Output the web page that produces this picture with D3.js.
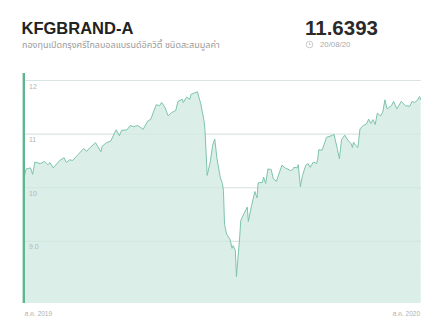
<!DOCTYPE html>
<html lang="th">
<head>
<meta charset="UTF-8">
<title>KFGBRAND-A</title>
<script src="https://d3js.org/d3.v7.min.js"></script>
<style>
  html, body { margin: 0; padding: 0; background: #fff; }
  body { font-family: "Liberation Sans", Arial, "Noto Sans Thai", "Noto Sans", sans-serif; }
  svg { display: block; }
</style>
</head>
<body>
<svg id="chart" width="442" height="329"></svg>
<script>
// --- data ---
const fundCode = "KFGBRAND-A";
const fundName = "กองทุนเปิดกรุงศรีโกลบอลแบรนด์อิควิตี้ ชนิดสะสมมูลค่า";
const latestNav = "11.6393";
const latestDate = "20/08/20";
const startDate = "2019-08-20";
const endDate = "2020-08-20";
const xLabels = ["ส.ค. 2019", "ส.ค. 2020"];
const yTicks = [9, 10, 11, 12];

// days since startDate
const dayOffsets = [
  0, 2, 6, 8, 10, 15, 19, 22, 24, 27, 33, 37, 39, 42, 45, 50, 55, 58, 61, 66,
  68, 71, 72, 76, 80, 85, 88, 90, 95, 98, 101, 105, 110, 114, 117, 122, 125, 127, 130, 133,
  136, 140, 142, 146, 147, 150, 153, 154, 160, 163, 166, 167, 169, 172, 174, 176, 178, 181, 183, 184,
  185, 187, 190, 192, 193, 195, 196, 199, 200, 203, 206, 207, 210, 213, 215, 216, 220, 221, 223, 225,
  228, 230, 233, 234, 238, 241, 246, 248, 249, 252, 253, 255, 257, 260, 262, 264, 267, 270, 271, 272,
  275, 278, 279, 285, 286, 289, 291, 293, 296, 299, 302, 303, 304, 306, 308, 310, 313, 316, 318, 320,
  322, 324, 326, 329, 331, 333, 335, 339, 341, 344, 348, 350, 352, 356, 358, 360, 363, 365, 366
];
const navs = [
  10.19, 10.35, 10.37, 10.25, 10.48, 10.45, 10.49, 10.43, 10.47, 10.37, 10.51, 10.56, 10.47, 10.52, 10.51, 10.62, 10.73, 10.68, 10.75, 10.84,
  10.77, 10.67, 10.77, 10.84, 10.87, 11.08, 10.97, 11.07, 11.08, 11.16, 11.14, 11.16, 11.09, 11.24, 11.28, 11.55, 11.53, 11.59, 11.50, 11.34,
  11.40, 11.44, 11.61, 11.65, 11.59, 11.69, 11.65, 11.74, 11.79, 11.57, 11.26, 11.07, 10.23, 10.50, 10.79, 10.91, 10.55, 10.20, 10.08, 9.95,
  9.32, 9.13, 9.04, 8.87, 8.92, 8.83, 8.34, 9.08, 9.39, 9.52, 9.64, 9.37, 9.67, 9.93, 9.81, 10.09, 10.10, 10.20, 10.08, 10.35,
  10.34, 10.17, 10.12, 10.19, 10.42, 10.37, 10.32, 10.34, 10.38, 10.37, 10.43, 10.02, 10.23, 10.42, 10.45, 10.38, 10.48, 10.45, 10.54, 10.71,
  10.70, 10.87, 10.94, 10.98, 11.00, 10.73, 10.54, 10.90, 10.98, 10.88, 10.82, 10.75, 10.85, 10.79, 10.75, 11.10, 11.16, 11.19, 11.28, 11.20,
  11.27, 11.18, 11.39, 11.34, 11.41, 11.64, 11.47, 11.53, 11.61, 11.47, 11.61, 11.57, 11.53, 11.52, 11.61, 11.59, 11.63, 11.70, 11.6393
];

const svg = d3.select("#chart");
const parse = d3.timeParse("%Y-%m-%d");
const t0 = parse(startDate);
const series = dayOffsets.map((d, i) => ({ date: d3.timeDay.offset(t0, d), nav: navs[i] }));

const plot = { left: 24, right: 420.7, top: 73, bottom: 303 };

const x = d3.scaleTime()
  .domain([t0, parse(endDate)])
  .range([plot.left, plot.right]);
const y = d3.scaleLinear()
  .domain([7.85, 12.14])
  .range([plot.bottom, plot.top]);

// header
svg.append("text").attr("x", 21.5).attr("y", 33.5)
  .attr("font-size", 16.5).attr("font-weight", "bold").attr("fill", "#222")
  .text(fundCode);
svg.append("text").attr("x", 22).attr("y", 48)
  .attr("font-size", 9).attr("fill", "#9a9a9a")
  .text(fundName);
svg.append("text").attr("x", 305).attr("y", 34.5)
  .attr("font-size", 20.5).attr("font-weight", "bold").attr("fill", "#2a2a2a")
  .text(latestNav);

// clock icon
const clock = svg.append("g").attr("transform", "translate(309.5,44.5)")
  .attr("fill", "none").attr("stroke", "#bbb").attr("stroke-width", 0.8);
clock.append("circle").attr("r", 3.3);
clock.append("path").attr("d", "M0,-1.8V0H1.5");
svg.append("text").attr("x", 320).attr("y", 47.3)
  .attr("font-size", 7.8).attr("fill", "#aaa")
  .text(latestDate);

// grid
const grid = svg.append("g");
grid.selectAll("line").data(yTicks).join("line")
  .attr("x1", plot.left).attr("x2", plot.right)
  .attr("y1", d => y(d)).attr("y2", d => y(d))
  .attr("stroke", "#e9e9e9").attr("stroke-width", 1);

// area + line
const area = d3.area()
  .x(d => x(d.date)).y0(plot.bottom).y1(d => y(d.nav));
const line = d3.line()
  .x(d => x(d.date)).y(d => y(d.nav));

svg.append("path").datum(series)
  .attr("d", area).attr("fill", "#d9eee7").attr("fill-opacity", 0.95);

// gridlines show faintly through the fill
grid.clone(true).raise().attr("opacity", 0.5).selectAll("line").attr("stroke", "#c9e3da");

svg.append("path").datum(series)
  .attr("d", line).attr("fill", "none")
  .attr("stroke", "#7ec4aa").attr("stroke-width", 1).attr("stroke-linejoin", "round");

// tick labels
const fmt = d3.format(".2r");
svg.append("g").selectAll("text").data(yTicks).join("text")
  .attr("x", 29).attr("y", d => y(d) + 8)
  .attr("font-size", 7).attr("fill", "#b4b4b4")
  .text(d => fmt(d));

// left accent bar
svg.append("rect")
  .attr("x", 22.6).attr("y", plot.top).attr("width", 2.4).attr("height", plot.bottom - plot.top)
  .attr("fill", "#5db592");

// x labels
svg.append("text").attr("x", 24.5).attr("y", 316)
  .attr("font-size", 6.5).attr("fill", "#b0b0b0")
  .text(xLabels[0]);
svg.append("text").attr("x", 420).attr("y", 316).attr("text-anchor", "end")
  .attr("font-size", 6.5).attr("fill", "#b0b0b0")
  .text(xLabels[1]);
</script>
</body>
</html>
